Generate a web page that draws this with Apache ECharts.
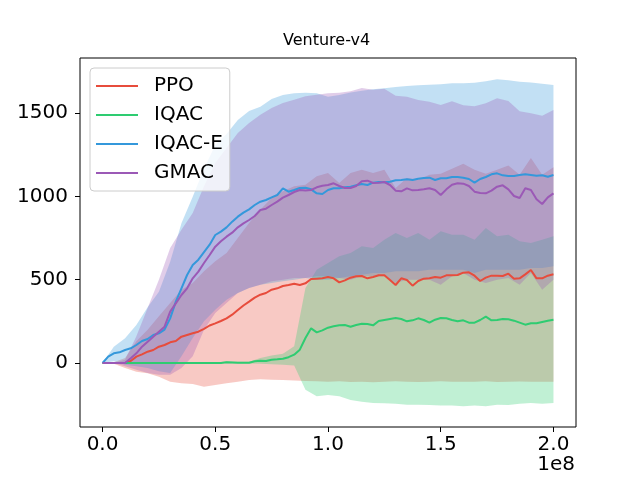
<!DOCTYPE html>
<html>
<head>
<meta charset="utf-8">
<script src="https://cdn.jsdelivr.net/npm/echarts@6/dist/echarts.min.js"></script>
<style>
  html, body { margin: 0; padding: 0; background: #fff; }
  #main { width: 640px; height: 480px; }
</style>
</head>
<body>
<div id="main"></div>
<script>
// training steps, in units of 1e8 (mean curves)
var lineSteps = [0, 0.025, 0.05, 0.075, 0.1, 0.125, 0.15, 0.175, 0.2, 0.225, 0.25, 0.275, 0.3, 0.325, 0.35, 0.375,
                 0.4, 0.425, 0.45, 0.475, 0.5, 0.525, 0.55, 0.575, 0.6, 0.625, 0.65, 0.675, 0.7, 0.725, 0.75, 0.775,
                 0.8, 0.825, 0.85, 0.875, 0.9, 0.925, 0.95, 0.975, 1.0, 1.025, 1.05, 1.075, 1.1, 1.125, 1.15, 1.175,
                 1.2, 1.225, 1.25, 1.275, 1.3, 1.325, 1.35, 1.375, 1.4, 1.425, 1.45, 1.475, 1.5, 1.525, 1.55, 1.575,
                 1.6, 1.625, 1.65, 1.675, 1.7, 1.725, 1.75, 1.775, 1.8, 1.825, 1.85, 1.875, 1.9, 1.925, 1.95, 1.975, 2.0];

var ppoMean = [0, 0, 0, 0, 0, 12, 38, 52, 68, 78,
               98, 108, 124, 132, 158, 168, 178, 188, 205, 225,
               238, 252, 268, 290, 318, 345, 368, 392, 410, 420,
               440, 448, 462, 468, 475, 468, 478, 504, 506, 508,
               516, 508, 484, 496, 512, 520, 522, 508, 516, 526,
               526, 498, 468, 508, 498, 464, 492, 506, 508, 516,
               512, 526, 526, 528, 542, 544, 524, 492, 512, 524,
               524, 522, 536, 506, 508, 532, 558, 508, 508, 524, 532];
var iqacMean = [0, 0, 0, 0, 0, 0, 0, 0, 0, 0,
                0, 0, 0, 0, 0, 0, 0, 0, 0, 0,
                0, 0, 5, 3, 1, 2, 2, 10, 14, 12,
                20, 22, 25, 35, 50, 80, 150, 208, 184, 196,
                212, 220, 226, 228, 218, 228, 236, 234, 226, 252,
                258, 264, 270, 264, 250, 256, 268, 258, 242, 260,
                270, 268, 258, 250, 256, 242, 242, 258, 278, 256,
                258, 264, 262, 254, 242, 230, 238, 238, 246, 254, 260];
var iqacEMean = [0, 38, 58, 64, 78, 88, 108, 132, 144, 168,
                 178, 200, 268, 368, 448, 528, 588, 620, 665, 710,
                 768, 788, 814, 848, 878, 902, 922, 948, 968, 978,
                 994, 1008, 1048, 1028, 1038, 1050, 1052, 1042, 1018, 1014,
                 1038, 1048, 1048, 1054, 1058, 1066, 1074, 1068, 1082, 1086,
                 1084, 1088, 1096, 1098, 1102, 1098, 1106, 1110, 1112, 1098,
                 1108, 1108, 1116, 1116, 1112, 1104, 1082, 1104, 1116, 1132,
                 1138, 1126, 1122, 1122, 1128, 1132, 1128, 1124, 1126, 1118, 1128];
var gmacMean = [0, 0, 0, 0, 0, 28, 58, 98, 128, 158,
                188, 218, 308, 358, 408, 448, 508, 548, 600, 648,
                698, 730, 758, 782, 814, 838, 858, 882, 918, 926,
                948, 968, 992, 1008, 1026, 1038, 1035, 1038, 1054, 1064,
                1068, 1078, 1062, 1050, 1050, 1062, 1090, 1094, 1080, 1082,
                1086, 1068, 1034, 1030, 1048, 1036, 1038, 1042, 1048, 1038,
                1008, 1042, 1070, 1078, 1076, 1062, 1028, 1020, 1018, 1034,
                1058, 1066, 1042, 1002, 990, 1048, 1038, 982, 954, 994, 1018];

// shaded bands (lower / upper edge)
var bandSteps = [0, 0.05, 0.1, 0.15, 0.2, 0.25, 0.3, 0.35, 0.4, 0.45, 0.5, 0.55, 0.6, 0.65, 0.7, 0.75, 0.8, 0.85, 0.9, 0.95,
                 1.0, 1.05, 1.1, 1.15, 1.2, 1.25, 1.3, 1.35, 1.4, 1.45, 1.5, 1.55, 1.6, 1.65, 1.7, 1.75, 1.8, 1.85, 1.9, 1.95, 2.0];

var ppoLo = [0, -5, -30, -52, -62, -82, -112, -122, -126, -142,
             -132, -122, -112, -102, -98, -100, -102, -105, -108, -110,
             -112, -110, -114, -112, -115, -112, -110, -112, -114, -112,
             -110, -112, -113, -112, -110, -114, -112, -111, -113, -112, -112];
var ppoHi = [0, 5, 30, 130, 200, 280, 360, 440, 480, 550,
             610, 660, 750, 840, 920, 990, 1030, 1060, 1070, 1120,
             1140, 1080, 1140, 1160, 1140, 1160, 1050, 1110, 1100, 1130,
             1135, 1165, 1195, 1160, 1135, 1160, 1185, 1130, 1230, 1130, 1175];

var iqacLo = [0, 0, 0, 0, 0, 0, 0, 0, 0, 0,
              0, -2, -3, -3, -5, -8, -10, -15, -160, -200,
              -192, -200, -222, -232, -240, -242, -245, -250, -250, -252,
              -255, -255, -260, -255, -260, -250, -252, -245, -240, -245, -240];
var iqacHi = [0, 0, 0, 0, 0, 0, 0, 0, 0, 0,
              0, 10, 8, 8, 30, 45, 55, 100, 450, 560,
              600, 640, 660, 700, 690, 740, 780, 750, 780, 740,
              790, 770, 770, 740, 810, 760, 770, 730, 720, 740, 760];

var iqacELo = [0, 10, -10, -20, -30, -50, -60, 40, 150, 250,
               320, 380, 420, 450, 470, 480, 490, 500, 510, 500,
               500, 510, 520, 530, 540, 540, 550, 550, 550, 560,
               560, 560, 560, 540, 560, 560, 560, 560, 570, 570, 580];
var iqacEHi = [0, 98, 148, 228, 334, 428, 608, 838, 998, 1165,
               1308, 1374, 1458, 1512, 1538, 1584, 1608, 1618, 1622, 1618,
               1598, 1608, 1623, 1634, 1642, 1649, 1656, 1662, 1666, 1670,
               1673, 1678, 1678, 1682, 1691, 1703, 1697, 1688, 1683, 1676, 1668];

var gmacLo = [0, 0, -20, -40, -60, -70, -70, -30, 40, 200,
              300, 360, 420, 450, 470, 490, 500, 510, 510, 520,
              520, 510, 500, 520, 520, 520, 480, 500, 500, 500,
              470, 520, 540, 500, 480, 500, 510, 470, 540, 440, 500];
var gmacHi = [0, 0, 20, 160, 330, 500, 690, 800, 900, 1060,
              1200, 1290, 1380, 1440, 1490, 1530, 1560, 1580, 1600, 1610,
              1618, 1622, 1630, 1650, 1640, 1646, 1604, 1598, 1578, 1568,
              1548, 1570, 1546, 1540, 1558, 1588, 1572, 1510, 1498, 1484, 1518];

var xTicks = [0, 0.5, 1.0, 1.5, 2.0];
var yTicks = [0, 500, 1000, 1500];

var names = ['PPO', 'IQAC', 'IQAC-E', 'GMAC'];
var colors = ['#e74c3c', '#2ecc71', '#3498db', '#9b59b6'];
var means = [ppoMean, iqacMean, iqacEMean, gmacMean];
var lows = [ppoLo, iqacLo, iqacELo, gmacLo];
var highs = [ppoHi, iqacHi, iqacEHi, gmacHi];

var font = 'DejaVu Sans';

function bandSeries(lo, hi, color) {
    return {
        type: 'custom',
        silent: true,
        z: 1,
        data: [[bandSteps[0], lo[0]]],
        renderItem: function (params, api) {
            var pts = [];
            for (var i = 0; i < bandSteps.length; i++) {
                pts.push(api.coord([bandSteps[i], hi[i]]));
            }
            for (var j = bandSteps.length - 1; j >= 0; j--) {
                pts.push(api.coord([bandSteps[j], lo[j]]));
            }
            return {
                type: 'polygon',
                shape: { points: pts },
                style: { fill: color, opacity: 0.3 }
            };
        }
    };
}

function lineSeries(name, mean, color) {
    return {
        name: name,
        type: 'line',
        z: 3,
        symbol: 'none',
        showSymbol: false,
        color: color,
        lineStyle: { width: 2, color: color },
        data: lineSteps.map(function (x, i) { return [x, mean[i]]; })
    };
}

var series = [];
for (var i = 0; i < names.length; i++) {
    series.push(bandSeries(lows[i], highs[i], colors[i]));
}
for (var k = 0; k < names.length; k++) {
    series.push(lineSeries(names[k], means[k], colors[k]));
}

var myChart = echarts.init(document.getElementById('main'));
var option = {
    animation: false,
    backgroundColor: '#fff',
    title: {
        text: 'Venture-v4',
        left: 283,
        top: 33,
        padding: 0,
        textStyle: { fontFamily: font, fontSize: 16, fontWeight: 'normal', color: '#000' }
    },
    legend: {
        data: names,
        orient: 'vertical',
        left: 90,
        top: 68,
        padding: [8, 7, 8, 6],
        itemGap: 9,
        itemWidth: 42,
        itemHeight: 2,
        icon: 'rect',
        backgroundColor: 'rgba(255,255,255,0.8)',
        borderColor: '#cccccc',
        borderWidth: 1,
        borderRadius: 4,
        textStyle: { fontFamily: font, fontSize: 20, lineHeight: 20, color: '#000', padding: [0, 0, 0, 11] }
    },
    grid: {
        left: 80, right: 64, top: 58, bottom: 53,
        show: true,
        borderColor: '#000',
        borderWidth: 1,
        backgroundColor: 'transparent'
    },
    xAxis: {
        type: 'value',
        min: -0.1,
        max: 2.1,
        splitLine: { show: false },
        axisLine: { show: false, onZero: false },
        axisTick: { show: true, length: 5, lineStyle: { color: '#000' }, customValues: xTicks },
        axisLabel: {
            customValues: xTicks,
            margin: 8,
            fontFamily: font, fontSize: 20, color: '#000',
            formatter: function (v) { return v.toFixed(1); }
        }
    },
    yAxis: {
        type: 'value',
        min: -384,
        max: 1830,
        splitLine: { show: false },
        axisLine: { show: false, onZero: false },
        axisTick: { show: true, length: 5, lineStyle: { color: '#000' }, customValues: yTicks },
        axisLabel: {
            customValues: yTicks,
            margin: 12,
            fontFamily: font, fontSize: 20, color: '#000',
            formatter: function (v) { return String(v); }
        }
    },
    graphic: [{
        type: 'text',
        right: 65,
        top: 455,
        style: { text: '1e8', fontFamily: font, fontSize: 20, fill: '#000' }
    }],
    series: series
};
myChart.setOption(option);
window.addEventListener('resize', function () {
    myChart.resize();
});
</script>
</body>
</html>
